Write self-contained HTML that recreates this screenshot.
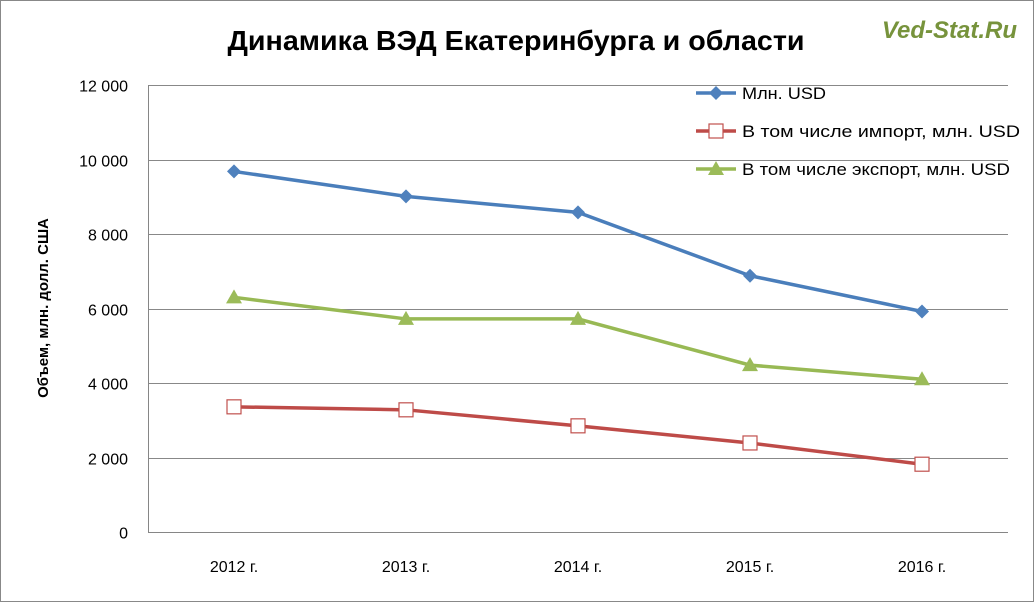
<!DOCTYPE html>
<html><head><meta charset="utf-8"><style>
body{margin:0;background:#fff}
svg{display:block;font-family:"Liberation Sans",sans-serif}
</style></head><body>
<svg width="1034" height="602">
<rect x="0.5" y="0.5" width="1033" height="601" fill="#fff" stroke="#888"/>
<text x="516" y="50" text-anchor="middle" font-size="28" font-weight="bold" fill="#000" textLength="577" lengthAdjust="spacingAndGlyphs">Динамика ВЭД Екатеринбурга и области</text>
<text x="1017" y="38" text-anchor="end" font-size="24" font-weight="bold" font-style="italic" fill="#77933c">Ved-Stat.Ru</text>
<text transform="translate(48,308) rotate(-90)" text-anchor="middle" font-size="15" font-weight="bold">Объем, млн. долл. США</text>
<g id="grid"></g><g id="series"></g><g id="legend"></g>
</svg>
<script>
const categories=["2012 г.","2013 г.","2014 г.","2015 г.","2016 г."];
const totalValues=[9680,9010,8580,6880,5920];
const importValues=[3360,3280,2850,2390,1820];
const exportValues=[6300,5720,5720,4480,4100];
const yTicks=[0,2000,4000,6000,8000,10000,12000];
const seriesNames=["Млн. USD","В том числе импорт, млн. USD","В том числе экспорт, млн. USD"];
const NS="http://www.w3.org/2000/svg";
const L=148,R=1008,T=85,B=532,yMax=12000;
const xs=i=>L+(R-L)/categories.length*(i+0.5);
const ys=v=>B-(v/yMax)*(B-T);
function mk(tag,at,parent){const e=document.createElementNS(NS,tag);for(const k in at)e.setAttribute(k,at[k]);parent.appendChild(e);return e;}
const grid=document.getElementById('grid');
yTicks.forEach(t=>{
 const y=Math.round(ys(t))+0.5;
 const g=mk('line',{x1:L,x2:R,y1:y,y2:y,stroke:t===0?'#868686':'#888','stroke-width':1},grid);
 
 
 const lb=mk('text',{x:L-20,y:y+6,'text-anchor':'end','font-size':16},grid);
 lb.textContent=t.toLocaleString('ru-RU').replace(/\u00a0|\u202f/g,' ');
 
 
});
const ax=mk('line',{x1:L+0.5,x2:L+0.5,y1:T,y2:B,stroke:'#868686'},grid);


categories.forEach((c,i)=>{
 const lb=mk('text',{x:xs(i),y:572,'text-anchor':'middle','font-size':16},grid);
 lb.textContent=c;
 
 
});
const S=document.getElementById('series');
function marker(kind,x,y,p){
 let m;
 if(kind==='d') m=mk('polygon',{points:`${x},${y-7} ${x+7},${y} ${x},${y+7} ${x-7},${y}`,fill:'#4f81bd'},p);
 else if(kind==='s') m=mk('rect',{x:x-7,y:y-7,width:14,height:14,fill:'#fff',stroke:'#c0504d','stroke-width':1.2},p);
 else m=mk('polygon',{points:`${x},${y-8} ${x+8},${y+6} ${x-8},${y+6}`,fill:'#9bbb59'},p);
 
 
}
function drawSeries(vals,color,kind,name){
 const g=mk('g',{},S);
 
 
 mk('polyline',{points:vals.map((v,i)=>xs(i)+','+ys(v)).join(' '),fill:'none',stroke:color,'stroke-width':3.5},g);
 vals.forEach((v,i)=>marker(kind,xs(i),ys(v),g));
}
drawSeries(totalValues,'#4a7ebb','d','series-total');
drawSeries(importValues,'#be4b48','s','series-import');
drawSeries(exportValues,'#98b954','t','series-export');
const LG=document.getElementById('legend');
const legW=[84,278,268];
[['#4a7ebb','d',93],['#be4b48','s',131],['#98b954','t',169]].forEach((r,i)=>{
 const g=mk('g',{},LG);
 
 
 mk('line',{x1:696,x2:736,y1:r[2],y2:r[2],stroke:r[0],'stroke-width':3.5},g);
 marker(r[1],716,r[2],g);
 const t=mk('text',{x:742,y:r[2]+6,'font-size':17,textLength:legW[i],lengthAdjust:'spacingAndGlyphs'},g);
 t.textContent=seriesNames[i];
});
</script>
</body></html>
